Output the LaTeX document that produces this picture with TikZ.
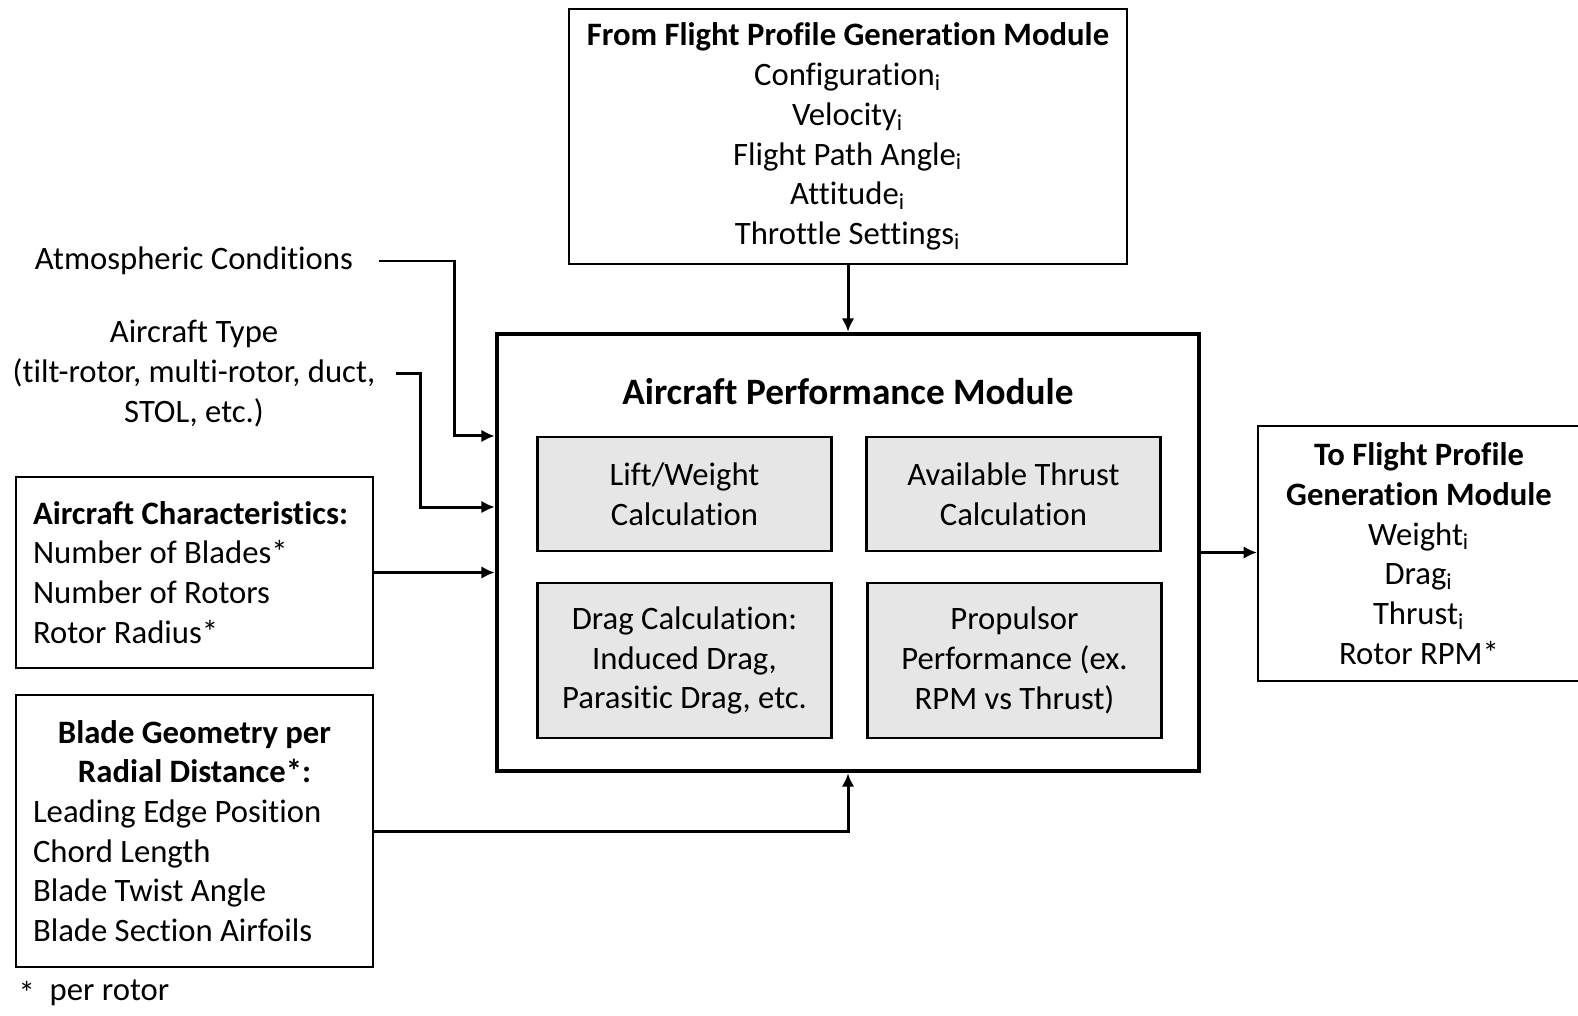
\documentclass[tikz,border=0pt]{standalone}
\usepackage{fontspec}
\setmainfont{Carlito}[Ligatures=NoCommon]
\usetikzlibrary{arrows.meta,calc}

\definecolor{calcgray}{RGB}{231,230,230}

\begin{document}
\begin{tikzpicture}[x=0.1mm,y=-0.1mm,
  every node/.style={font=\fontsize{9.3}{11.3}\selectfont},
  box/.style={draw,line width=0.6pt,inner sep=0pt},
  calcbox/.style={box,fill=calcgray,minimum width=29.4mm,align=center},
  lbl/.style={inner sep=0pt,align=center},
  arr/.style={line width=0.85pt,-{Latex[length=3.8pt,width=3.6pt]}}]
  \useasboundingbox (0,0) rectangle (1578,1015);

  % Inputs coming from the flight profile side
  \node[box,minimum width=55.8mm,minimum height=25.5mm,align=center] (from) at (848,136.5)
    {\textbf{From Flight Profile Generation Module}\\
     Configuration\textsubscript{i}\\
     Velocity\textsubscript{i}\\
     Flight Path Angle\textsubscript{i}\\
     Attitude\textsubscript{i}\\
     Throttle Settings\textsubscript{i}};

  % The performance module and its four calculations
  \node[box,line width=1.3pt,minimum width=70.2mm,minimum height=43.7mm] (perf) at (848,552.5) {};
  \node[font=\fontsize{10.6}{13}\selectfont\bfseries] (perftitle) at (848,392) {Aircraft Performance Module};
  \node[calcbox,minimum height=11.4mm] (lift) at (684.5,494) {Lift/Weight\\Calculation};
  \node[calcbox,minimum height=11.4mm] (avail) at (1013.5,494) {Available Thrust\\Calculation};
  \node[calcbox,minimum height=15.5mm] (drag) at (684.5,660.5) {Drag Calculation:\\Induced Drag,\\Parasitic Drag, etc.};
  \node[calcbox,minimum height=15.5mm] (prop) at (1014.5,660.5) {Propulsor\\Performance (ex.\\RPM vs Thrust)};

  % Outputs handed back
  \node[box,minimum width=32.2mm,minimum height=25.5mm,align=center] (to) at (1419,553.5)
    {\textbf{To Flight Profile}\\
     \textbf{Generation Module}\\
     Weight\textsubscript{i}\\
     Drag\textsubscript{i}\\
     Thrust\textsubscript{i}\\
     Rotor RPM*};

  % Fixed inputs on the left
  \node[lbl] (atmos) at (194,261) {Atmospheric Conditions};
  \node[lbl] (type) at (194,373.5) {Aircraft Type\\(tilt-rotor, multi-rotor, duct,\\STOL, etc.)};
  \node[box,minimum width=35.7mm,minimum height=19.1mm,text width=32.3mm,align=flush left] (chars) at (194.5,572.5)
    {\textbf{Aircraft Characteristics:}\\
     Number of Blades*\\
     Number of Rotors\\
     Rotor Radius*};
  \node[box,minimum width=35.7mm,minimum height=27.2mm,text width=32.3mm,align=flush left] (blade) at (194.5,831)
    {{\centering\bfseries Blade Geometry per\\Radial Distance*:\par}
     Leading Edge Position\\
     Chord Length\\
     Blade Twist Angle\\
     Blade Section Airfoils};
  \node[lbl,anchor=west] (note) at (18,993) {\raisebox{-0.25ex}{*}\hspace{0.45em}per rotor};

  % Connectors
  \draw[arr] (from) -- (perf);
  \draw[arr] ($(atmos.east)+(25,0)$) -| ($(perf.west |- lift.north)+(-40,0)$) -- (perf.west |- lift.north);
  \draw[arr] ($(type.east)+(20,0)$) -| ($(perf.west)+(-74,-45.5)$) -- ($(perf.west)+(0,-45.5)$);
  \draw[arr] (chars.east) -- (perf.west |- chars.east);
  \draw[arr] (blade.east) -| (perf.south);
  \draw[arr] (perf.east) -- (to.west |- perf.east);
\end{tikzpicture}
\end{document}
